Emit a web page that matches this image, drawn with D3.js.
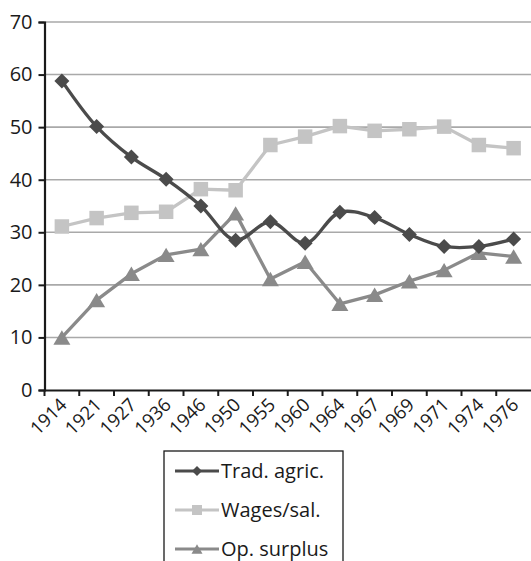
<!DOCTYPE html>
<html><head><meta charset="utf-8">
<script src="https://cdn.jsdelivr.net/npm/d3@7"></script>
<style>html,body{margin:0;padding:0;background:#fff;}svg{display:block;font-family:"Open Sans",sans-serif;}</style>
</head><body>
<script>
const years = ["1914","1921","1927","1936","1946","1950","1955","1960","1964","1967","1969","1971","1974","1976"];
const tradAgric = [58.8,50.1,44.3,40.1,35.0,28.5,32.0,27.9,33.8,32.8,29.6,27.3,27.3,28.7];
const wagesSal  = [31.1,32.7,33.7,33.9,38.2,38.0,46.6,48.2,50.2,49.3,49.6,50.1,46.6,46.0];
const opSurplus = [10.0,17.1,22.1,25.7,26.8,33.6,21.1,24.4,16.4,18.1,20.7,22.8,26.1,25.4];
const yTicks = [0,10,20,30,40,50,60,70];
const seriesNames = ["Trad. agric.","Wages/sal.","Op. surplus"];

const W = 531, H = 561;
const svg = d3.select("body").append("svg").attr("width", W).attr("height", H);
const x = d3.scaleBand().domain(years).range([44.5, 531]).padding(0);
const y = d3.scaleLinear().domain([0,70]).range([390, 22]);

// gridlines
svg.append("g").selectAll("line").data(yTicks.filter(d=>d>0)).join("line")
  .attr("x1", 44.5).attr("x2", W).attr("y1", d=>y(d)).attr("y2", d=>y(d))
  .attr("stroke", "#a9a9a9").attr("stroke-width", 1.6);

// axes
const yAxis = svg.append("g").attr("transform","translate(44.5,0)")
  .call(d3.axisLeft(y).tickValues(yTicks).tickSize(6).tickPadding(6));
yAxis.select(".domain").attr("stroke","#1a1a1a").attr("stroke-width",2.2);
yAxis.selectAll(".tick line").attr("stroke","#1a1a1a").attr("stroke-width",2);
yAxis.selectAll("text").attr("font-size",20).attr("fill","#1a1a1a").attr("font-family","Open Sans");

const xAxis = svg.append("g").attr("transform","translate(0,390)")
  .call(d3.axisBottom(x).tickSizeOuter(0).tickSize(0).tickFormat(d=>d));
xAxis.select(".domain").attr("stroke","#1a1a1a").attr("stroke-width",2.2);
xAxis.selectAll(".tick text")
  .attr("font-size",18.5).attr("fill","#1a1a1a").attr("font-family","Open Sans")
  .attr("text-anchor","end").attr("dy",null).attr("y",null)
  .attr("transform","translate(6,16) rotate(-45)");
// band-edge tick marks
svg.append("g").selectAll("line").data(years).join("line")
  .attr("x1", d=>x(d)).attr("x2", d=>x(d)).attr("y1",390).attr("y2",396)
  .attr("stroke","#1a1a1a").attr("stroke-width",2);

const cx = d => x(d) + x.bandwidth()/2;

const triSym = {draw(ctx, size){ const s = Math.sqrt(size); const h = s*0.85;
  ctx.moveTo(0,-h/2); ctx.lineTo(s/2,h/2); ctx.lineTo(-s/2,h/2); ctx.closePath(); }};
const diaSym = {draw(ctx, size){ const r = Math.sqrt(size)/2;
  ctx.moveTo(0,-r); ctx.lineTo(r,0); ctx.lineTo(0,r); ctx.lineTo(-r,0); ctx.closePath(); }};

const series = [
  {name: seriesNames[0], values: tradAgric, color:"#4b4b4b", sym: diaSym, size: 15*15, lsize: 10*10, curve: d3.curveCatmullRom},
  {name: seriesNames[1], values: wagesSal, color:"#c4c4c4", sym: d3.symbolSquare, size: 14.5*14.5, lsize: 10*10, curve: d3.curveLinear},
  {name: seriesNames[2], values: opSurplus, color:"#8a8a8a", sym: triSym, size: 17*17, lsize: 11*11, curve: d3.curveLinear}
];
const drawOrder = [series[2], series[1], series[0]];
drawOrder.forEach(s => {
  const line = d3.line().x((d,i)=>cx(years[i])).y(d=>y(d)).curve(s.curve);
  svg.append("path").datum(s.values).attr("d", line).attr("fill","none")
    .attr("stroke", s.color).attr("stroke-width", 3.3).attr("stroke-linejoin","round");
});
drawOrder.forEach(s => {
  svg.append("g").selectAll("path").data(s.values).join("path")
    .attr("d", d3.symbol().type(s.sym).size(s.size))
    .attr("transform", (d,i)=>`translate(${cx(years[i])},${y(d)})`)
    .attr("fill", s.color);
});

// legend
const lg = svg.append("g");
lg.append("rect").attr("x",164).attr("y",451).attr("width",179).attr("height",130)
  .attr("fill","#fff").attr("stroke","#1a1a1a").attr("stroke-width",1.3);
series.forEach((s,i) => {
  const yy = 471 + i*39;
  lg.append("line").attr("x1",175).attr("x2",219).attr("y1",yy).attr("y2",yy)
    .attr("stroke", s.color).attr("stroke-width",3);
  lg.append("path").attr("d", d3.symbol().type(s.sym).size(s.lsize)())
    .attr("transform",`translate(197,${yy})`).attr("fill", s.color);
  lg.append("text").attr("x",221).attr("y",yy).attr("dy","0.35em")
    .attr("font-size",20).attr("fill","#1a1a1a").text(s.name);
});
</script>
</body></html>
